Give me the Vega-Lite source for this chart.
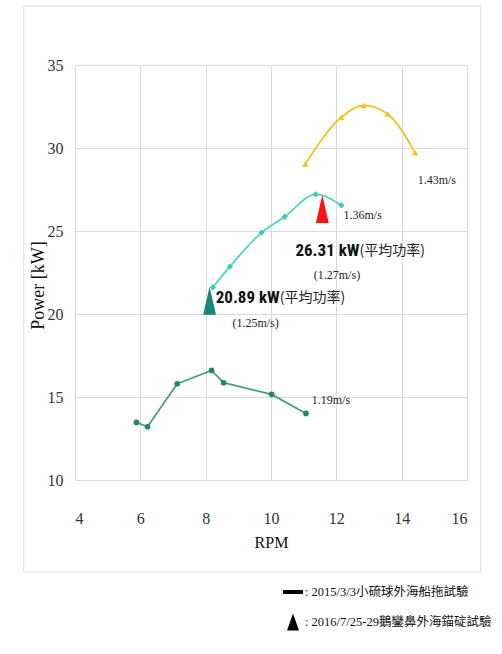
{
  "$schema": "https://vega.github.io/schema/vega-lite/v6.json",
  "autosize": {"type": "none"},
  "width": 392,
  "height": 415,
  "padding": {"left": 75, "top": 65, "right": 35, "bottom": 174},
  "background": "white",
  "config": {
    "view": {"stroke": null},
    "axis": {
      "grid": true,
      "gridColor": "#dadada",
      "gridWidth": 1,
      "domain": false,
      "ticks": false,
      "labelFont": "Liberation Serif",
      "labelFontSize": 16,
      "labelColor": "#333333",
      "titleFont": "Liberation Serif",
      "titleFontWeight": "normal",
      "titleColor": "#111111"
    }
  },
  "datasets": {
    "curves": [
      {"series": "1.19m/s", "rpm": 5.88, "power": 13.47},
      {"series": "1.19m/s", "rpm": 6.22, "power": 13.21},
      {"series": "1.19m/s", "rpm": 7.13, "power": 15.8},
      {"series": "1.19m/s", "rpm": 8.18, "power": 16.6},
      {"series": "1.19m/s", "rpm": 8.55, "power": 15.86},
      {"series": "1.19m/s", "rpm": 10.02, "power": 15.16},
      {"series": "1.19m/s", "rpm": 11.07, "power": 14.01},
      {"series": "1.36m/s", "rpm": 8.22, "power": 21.61},
      {"series": "1.36m/s", "rpm": 8.74, "power": 22.85},
      {"series": "1.36m/s", "rpm": 9.71, "power": 24.9},
      {"series": "1.36m/s", "rpm": 10.42, "power": 25.86},
      {"series": "1.36m/s", "rpm": 11.37, "power": 27.21},
      {"series": "1.36m/s", "rpm": 12.15, "power": 26.55},
      {"series": "1.43m/s", "rpm": 11.05, "power": 29.04},
      {"series": "1.43m/s", "rpm": 12.15, "power": 31.85},
      {"series": "1.43m/s", "rpm": 12.84, "power": 32.57},
      {"series": "1.43m/s", "rpm": 13.57, "power": 32.05},
      {"series": "1.43m/s", "rpm": 14.41, "power": 29.72}
    ],
    "averages": [
      {"series": "2016 1.25m/s", "rpm": 8.12, "power": 20.8},
      {"series": "2016 1.27m/s", "rpm": 11.57, "power": 26.33}
    ],
    "labels": [
      {"kind": "speed", "rpm": 14.49, "power": 28.07, "text": "1.43m/s"},
      {"kind": "speed", "rpm": 12.22, "power": 25.96, "text": "1.36m/s"},
      {"kind": "speed", "rpm": 11.31, "power": 22.35, "text": "(1.27m/s)"},
      {"kind": "speed", "rpm": 8.82, "power": 19.44, "text": "(1.25m/s)"},
      {"kind": "speed", "rpm": 11.25, "power": 14.82, "text": "1.19m/s"},
      {"kind": "value", "rpm": 12.71, "power": 23.8, "text": "26.31 kW"},
      {"kind": "value", "rpm": 10.27, "power": 20.95, "text": "20.89 kW"},
      {"kind": "note", "rpm": 12.71, "power": 23.8, "text": "(平均功率)"},
      {"kind": "note", "rpm": 10.27, "power": 20.95, "text": "(平均功率)"}
    ],
    "frame": [
      {"x1": 2.43, "x2": 16.42, "y1": 38.55, "y2": 4.46}
    ],
    "legend": [
      {"test": "2015/3/3小硫球外海船拖試驗"},
      {"test": "2016/7/25-29鵝鑾鼻外海錨碇試驗"}
    ]
  },
  "layer": [
    {
      "data": {"name": "frame"},
      "mark": {"type": "rect", "fill": null, "stroke": "#dcdcdc", "strokeWidth": 1},
      "encoding": {
        "x": {"field": "x1", "type": "quantitative", "scale": {"domain": [4, 16], "nice": false, "zero": false}},
        "x2": {"field": "x2"},
        "y": {"field": "y1", "type": "quantitative", "scale": {"domain": [10, 35], "nice": false, "zero": false}},
        "y2": {"field": "y2"}
      }
    },
    {
      "data": {"name": "curves"},
      "transform": [{"filter": "datum.series === '1.19m/s'"}],
      "mark": {"type": "line", "interpolate": "linear", "strokeWidth": 1.8, "color": "#4a9e78"},
      "encoding": {
        "x": {
          "field": "rpm", "type": "quantitative",
          "scale": {"domain": [4, 16], "nice": false, "zero": false},
          "axis": {"values": [4, 6, 8, 10, 12, 14, 16], "title": "RPM", "labelPadding": 30, "titleFontSize": 16, "titlePadding": 8}
        },
        "y": {
          "field": "power", "type": "quantitative",
          "scale": {"domain": [10, 35], "nice": false, "zero": false},
          "axis": {"values": [10, 15, 20, 25, 30, 35], "title": "Power [kW]", "labelPadding": 12, "titleFontSize": 18, "titleX": -37, "titleY": 220, "titleBaseline": "middle", "titleAlign": "center"}
        }
      }
    },
    {
      "data": {"name": "curves"},
      "transform": [{"filter": "datum.series !== '1.19m/s'"}],
      "mark": {"type": "line", "interpolate": "monotone", "strokeWidth": 1.8},
      "encoding": {
        "x": {"field": "rpm", "type": "quantitative"},
        "y": {"field": "power", "type": "quantitative"},
        "color": {
          "field": "series", "type": "nominal",
          "scale": {
            "domain": ["1.36m/s", "1.43m/s", "2016 1.25m/s", "2016 1.27m/s"],
            "range": ["#52d3c5", "#f0c320", "#14877a", "#ff1212"]
          },
          "legend": null
        }
      }
    },
    {
      "data": {"name": "curves"},
      "transform": [{"filter": "datum.series === '1.19m/s'"}],
      "mark": {"type": "point", "shape": "circle", "filled": true, "size": 32, "opacity": 1, "color": "#1f8a55"},
      "encoding": {
        "x": {"field": "rpm", "type": "quantitative"},
        "y": {"field": "power", "type": "quantitative"}
      }
    },
    {
      "data": {"name": "curves"},
      "transform": [{"filter": "datum.series === '1.36m/s'"}],
      "mark": {"type": "point", "shape": "diamond", "filled": true, "size": 40, "opacity": 1, "color": "#3fcabd"},
      "encoding": {
        "x": {"field": "rpm", "type": "quantitative"},
        "y": {"field": "power", "type": "quantitative"}
      }
    },
    {
      "data": {"name": "curves"},
      "transform": [{"filter": "datum.series === '1.43m/s'"}],
      "mark": {"type": "point", "shape": "triangle-up", "filled": true, "size": 42, "opacity": 1, "color": "#f0c320"},
      "encoding": {
        "x": {"field": "rpm", "type": "quantitative"},
        "y": {"field": "power", "type": "quantitative"}
      }
    },
    {
      "data": {"name": "averages"},
      "mark": {"type": "point", "shape": "M0,-1L0.46,1L-0.46,1Z", "filled": true, "size": 784, "opacity": 1, "strokeWidth": 0},
      "encoding": {
        "x": {"field": "rpm", "type": "quantitative"},
        "y": {"field": "power", "type": "quantitative"},
        "color": {"field": "series", "type": "nominal"}
      }
    },
    {
      "data": {"name": "labels"},
      "transform": [{"filter": "datum.kind === 'speed'"}],
      "mark": {"type": "text", "align": "left", "baseline": "middle", "font": "Liberation Serif", "fontSize": 12, "color": "#222222"},
      "encoding": {
        "x": {"field": "rpm", "type": "quantitative"},
        "y": {"field": "power", "type": "quantitative"},
        "text": {"field": "text"}
      }
    },
    {
      "data": {"name": "labels"},
      "transform": [{"filter": "datum.kind === 'value'"}],
      "mark": {"type": "text", "align": "right", "baseline": "middle", "font": "Liberation Sans Narrow, Roboto Condensed, Liberation Sans", "fontWeight": "bold", "fontSize": 17, "color": "#111111"},
      "encoding": {
        "x": {"field": "rpm", "type": "quantitative"},
        "y": {"field": "power", "type": "quantitative"},
        "text": {"field": "text"}
      }
    },
    {
      "data": {"name": "labels"},
      "transform": [{"filter": "datum.kind === 'note'"}],
      "mark": {"type": "text", "align": "left", "baseline": "middle", "font": "Noto Sans CJK TC", "fontSize": 14, "color": "#222222"},
      "encoding": {
        "x": {"field": "rpm", "type": "quantitative"},
        "y": {"field": "power", "type": "quantitative"},
        "text": {"field": "text"}
      }
    },
    {
      "data": {"name": "legend"},
      "mark": {"type": "point", "filled": true, "color": "black", "opacity": 0},
      "encoding": {
        "shape": {
          "field": "test", "type": "nominal",
          "scale": {
            "domain": ["2015/3/3小硫球外海船拖試驗", "2016/7/25-29鵝鑾鼻外海錨碇試驗"],
            "range": ["M-1,-0.2H1V0.2H-1Z", "M0,-0.85L0.6,0.85L-0.6,0.85Z"]
          },
          "legend": {
            "title": null,
            "orient": "none",
            "legendX": 208,
            "legendY": 517,
            "padding": 0,
            "symbolSize": 400,
            "symbolOpacity": 1,
            "symbolFillColor": "black",
            "symbolStrokeWidth": 0,
            "rowPadding": 13,
            "labelOffset": 2,
            "labelFont": "Liberation Serif, Noto Sans CJK TC",
            "labelFontSize": 12.5,
            "labelColor": "#111111",
            "labelLimit": 300,
            "labelExpr": "': ' + datum.label",
            "encode": {"symbols": {"update": {"opacity": {"value": 1}, "fill": {"value": "black"}}}}
          }
        }
      }
    }
  ]
}
